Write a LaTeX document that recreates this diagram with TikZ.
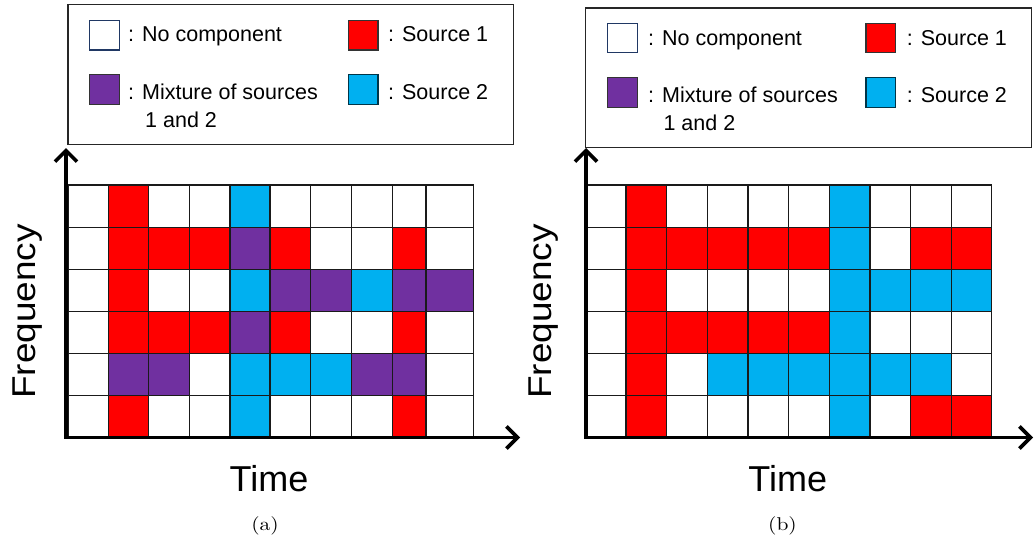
\documentclass[tikz,border=0pt]{standalone}
\usepackage{fontspec}
\newfontfamily\sansf{Liberation Sans}
\newfontfamily\freqf[FakeStretch=1.12]{Liberation Sans}
\usetikzlibrary{arrows.meta}
\definecolor{cW}{HTML}{FFFFFF}
\definecolor{cR}{HTML}{FF0000}
\definecolor{cP}{HTML}{7030A0}
\definecolor{cB}{HTML}{00B0F0}
\definecolor{gridline}{HTML}{1A1A1A}
\definecolor{navyedge}{HTML}{203864}
\def\YY{{185,227.3,269.3,311.7,353.7,395.7,436.7}}
\def\XA{{68.3,108.3,148.3,189.3,230,270,310.7,351.7,392.3,426,473.3}}
\def\XB{{586.7,626,666.7,707.3,748,788.7,829.3,870,910.7,951.3,991.7}}
\newcommand\panelgrid[2]{%
  \foreach \rowcols [count=\r from 0] in {#2} {
    \foreach \c [count=\k from 0] in \rowcols {
      \pgfmathsetmacro\xa{#1[\k]}
      \pgfmathsetmacro\xb{#1[\k+1]}
      \pgfmathsetmacro\ya{\YY[\r]}
      \pgfmathsetmacro\yb{\YY[\r+1]}
      \filldraw[cell, fill=c\c] (\xa,\ya) rectangle (\xb,\yb);
    }
  }
}
\newcommand\capt[1]{\scalebox{2.15}[1.85]{#1}}
\begin{document}
\begin{tikzpicture}[x=1pt,y=-1pt,
  cell/.style={draw=gridline, line width=1.1pt},
  legbox/.style={draw=black!85, line width=1.3pt},
  swatch/.style={draw=black!80, line width=1.2pt, minimum width=29.5pt, minimum height=29.5pt, inner sep=0pt},
  legtext/.style={font=\sansf\fontsize{21.5}{28}\selectfont, inner sep=0pt, anchor=base west},
  axis/.style={line width=3.6pt, line join=miter, {Straight Barb[length=11pt,width=22pt]}-{Straight Barb[length=11pt,width=22pt]}},
  timelabel/.style={font=\sansf\fontsize{36}{40}\selectfont, inner sep=0pt, anchor=base},
  freqlabel/.style={font=\freqf\fontsize{33}{38}\selectfont, inner sep=0pt, anchor=base, rotate=90},
  caption/.style={inner sep=0pt, anchor=base}]
\useasboundingbox (0,0) rectangle (1035,538);

% ---------- panel (a) ----------
\node[legbox, minimum width=445.4pt, minimum height=140pt, inner sep=0pt, anchor=north west] (legA) at (67.3,4) {};
\node[swatch, fill=cW, draw=navyedge] (swAW) at (104.5,35.3) {};
\node[swatch, fill=cR] (swAR) at (363.2,35.3) {};
\node[swatch, fill=cP] (swAP) at (104.5,89.5) {};
\node[swatch, fill=cB, draw=black!70!cB] (swAB) at (363.2,89.5) {};
\node[legtext] (tAW) at (128,41.7) {: No component};
\node[legtext] (tAR) at (388,41.7) {: Source 1};
\node[legtext] (tAP) at (128,99.3) {: Mixture of sources};
\node[legtext] (tAP2) at (145,127.3) {1 and 2};
\node[legtext] (tAB) at (388,99.3) {: Source 2};

\panelgrid{\XA}{{W,R,W,W,B,W,W,W,W,W},{W,R,R,R,P,R,W,W,R,W},{W,R,W,W,B,P,P,B,P,P},{W,R,R,R,P,R,W,W,R,W},{W,P,P,W,B,B,B,P,P,W},{W,R,W,W,B,W,W,W,R,W}}

\coordinate (oA) at (66,437.5);
\coordinate (yA) at (66,148);
\coordinate (xA) at (520,437.5);
\draw[axis] (yA) -- (oA) -- (xA);
\node[freqlabel] (fA) at (35,311.5) {Frequency};
\node[timelabel] (tiA) at (269,491.7) {Time};
\node[caption] (capA) at (265,530) {\capt{(a)}};

% ---------- panel (b) ----------
\node[legbox, minimum width=445.7pt, minimum height=139.4pt, inner sep=0pt, anchor=north west] (legB) at (585,7.3) {};
\node[swatch, fill=cW, draw=navyedge] (swBW) at (622.5,38) {};
\node[swatch, fill=cR] (swBR) at (880.8,38) {};
\node[swatch, fill=cP] (swBP) at (622.5,92.5) {};
\node[swatch, fill=cB, draw=black!70!cB] (swBB) at (880.8,92.5) {};
\node[legtext] (tBW) at (648,45) {: No component};
\node[legtext] (tBR) at (906.7,45) {: Source 1};
\node[legtext] (tBP) at (648,102.3) {: Mixture of sources};
\node[legtext] (tBP2) at (663.3,130) {1 and 2};
\node[legtext] (tBB) at (906.7,102.3) {: Source 2};

\panelgrid{\XB}{{W,R,W,W,W,W,B,W,W,W},{W,R,R,R,R,R,B,W,R,R},{W,R,W,W,W,W,B,B,B,B},{W,R,R,R,R,R,B,W,W,W},{W,R,W,B,B,B,B,B,B,W},{W,R,W,W,W,W,B,W,R,R}}

\coordinate (oB) at (586,437.5);
\coordinate (yB) at (586,148);
\coordinate (xB) at (1033,437.5);
\draw[axis] (yB) -- (oB) -- (xB);
\node[freqlabel] (fB) at (551.7,311.5) {Frequency};
\node[timelabel] (tiB) at (787.7,491.7) {Time};
\node[caption] (capB) at (782.5,530) {\capt{(b)}};
\end{tikzpicture}
\end{document}
